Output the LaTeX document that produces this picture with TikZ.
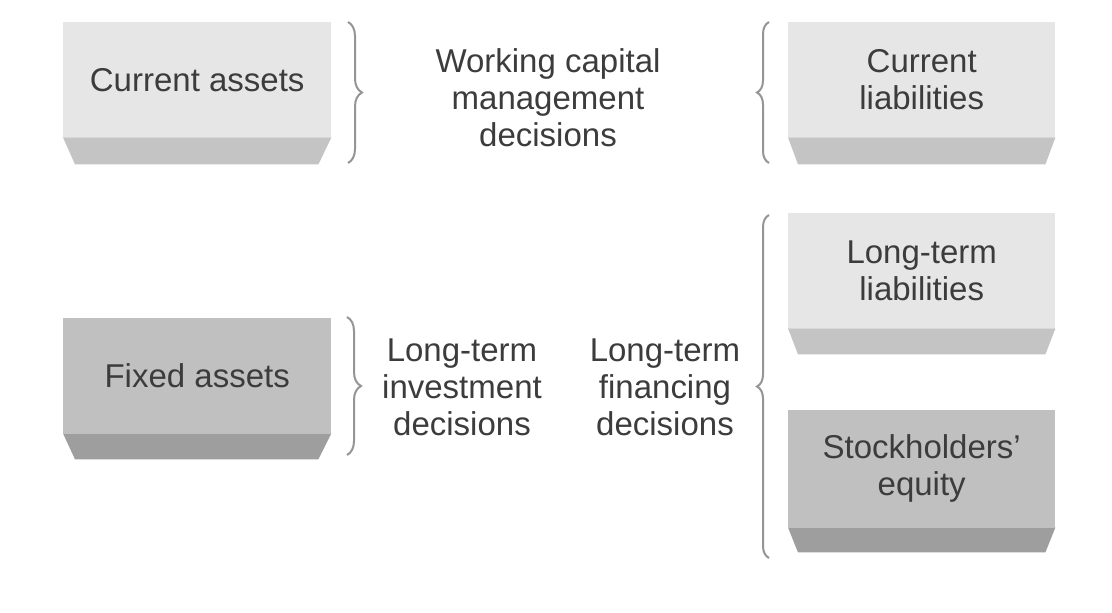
\documentclass[tikz,border=0pt]{standalone}
\usepackage{fontspec}
\setmainfont{Liberation Sans}
\usetikzlibrary{decorations.pathreplacing}
\definecolor{boxL}{HTML}{E6E6E6}
\definecolor{bandL}{HTML}{C4C4C4}
\definecolor{boxD}{HTML}{C0C0C0}
\definecolor{bandD}{HTML}{9E9E9E}
\definecolor{txt}{HTML}{3C3C3C}
\definecolor{brc}{HTML}{959595}
\begin{document}
\begin{tikzpicture}[x=1pt,y=-1pt,
  basebox/.style={draw=none, minimum width=268pt, minimum height=115pt, anchor=north west,
    inner sep=0pt, align=center, text=txt, font=\fontsize{33}{37}\selectfont},
  lightbox/.style={basebox, fill=boxL},
  darkbox/.style={basebox, fill=boxD},
  label/.style={align=center, text=txt, font=\fontsize{33}{37}\selectfont, inner sep=0pt},
  bracer/.style={draw=brc, line width=2pt, decorate, decoration={brace, amplitude=14pt}},
  bracel/.style={draw=brc, line width=2pt, decorate, decoration={brace, amplitude=12pt}}
]
\useasboundingbox (0,0) rectangle (1112,613);
\fill[white] (0,0) rectangle (1112,613);

% boxes
\node[lightbox] (ca) at (63,22) {Current assets};
\node[lightbox, minimum width=267pt] (cl) at (788,22) {Current\\liabilities};
\node[darkbox] (fa) at (63,318) {Fixed assets};
\node[lightbox, minimum width=267pt] (ltl) at (788,213) {Long-term\\liabilities};
\node[darkbox, minimum width=267pt, minimum height=117pt] (se) at (788,410) {Stockholders'\\equity};

% bevel bands
\fill[bandL] (ca.south west) -- (ca.south east) -- ([xshift=-13pt,yshift=-27pt]ca.south east) -- ([xshift=12pt,yshift=-27pt]ca.south west) -- cycle;
\fill[bandL] (cl.south west) -- (cl.south east) -- ([xshift=-10pt,yshift=-27pt]cl.south east) -- ([xshift=10pt,yshift=-27pt]cl.south west) -- cycle;
\fill[bandD] (fa.south west) -- (fa.south east) -- ([xshift=-13pt,yshift=-26pt]fa.south east) -- ([xshift=12pt,yshift=-26pt]fa.south west) -- cycle;
\fill[bandL] (ltl.south west) -- (ltl.south east) -- ([xshift=-10pt,yshift=-26pt]ltl.south east) -- ([xshift=10pt,yshift=-26pt]ltl.south west) -- cycle;
\fill[bandD] (se.south west) -- (se.south east) -- ([xshift=-10pt,yshift=-25pt]se.south east) -- ([xshift=10pt,yshift=-25pt]se.south west) -- cycle;

% labels
\node[label] (wc) at (548,98) {Working capital\\management\\decisions};
\node[label] (lti) at (462,387) {Long-term\\investment\\decisions};
\node[label] (ltf) at (665,387) {Long-term\\financing\\decisions};

% braces
\coordinate (b1t) at (348,22);  \coordinate (b1b) at (348,163);
\coordinate (b2t) at (769,22);  \coordinate (b2b) at (769,163);
\coordinate (b3t) at (347,317); \coordinate (b3b) at (347,455);
\coordinate (b4t) at (769,215); \coordinate (b4b) at (769,558);
\draw[bracer] (b1t) -- (b1b);
\draw[bracel] (b2b) -- (b2t);
\draw[bracer] (b3t) -- (b3b);
\draw[bracel] (b4b) -- (b4t);
\end{tikzpicture}
\end{document}
